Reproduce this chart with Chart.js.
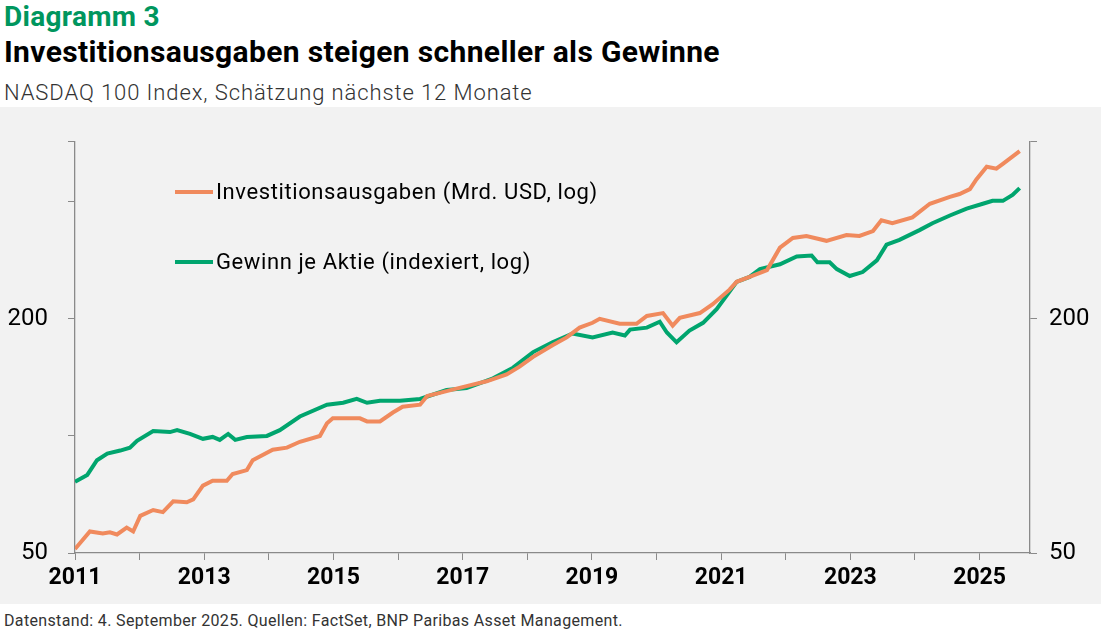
<!DOCTYPE html>
<html><head><meta charset="utf-8">
<script src="https://cdn.jsdelivr.net/npm/chart.js@4"></script>
<style>
body{margin:0;width:1101px;height:635px;background:#fff;font-family:Roboto,sans-serif;position:relative;overflow:hidden}
.t1{position:absolute;left:4px;top:0px;font-size:28px;font-weight:700;color:#00965e;letter-spacing:0.3px}
.t2{position:absolute;left:4px;top:34px;font-size:30px;font-weight:700;color:#000;letter-spacing:0.35px}
.t3{position:absolute;left:4px;top:80px;font-size:22px;color:#333;font-weight:300;letter-spacing:0.9px}
.box{position:absolute;left:0;top:107px;width:1101px;height:497px;background:#f2f2f2}
.foot{position:absolute;left:4px;top:611px;font-size:16px;color:#333;letter-spacing:0.35px}
.lg{position:absolute;left:175px;font-size:22px;color:#000;display:flex;align-items:center;letter-spacing:0.6px}
.lg span{display:inline-block;width:38px;height:4px;margin-right:3px}
</style></head><body>
<div class="t1">Diagramm 3</div>
<div class="t2">Investitionsausgaben steigen schneller als Gewinne</div>
<div class="t3">NASDAQ 100 Index, Schätzung nächste 12 Monate</div>
<div class="box"><canvas id="c" width="1101" height="497"></canvas></div>
<div class="lg" style="top:179px"><span style="background:#f08a5d"></span>Investitionsausgaben (Mrd. USD, log)</div>
<div class="lg" style="top:249px"><span style="background:#00a56e"></span>Gewinn je Aktie (indexiert, log)</div>
<div class="foot">Datenstand: 4. September 2025. Quellen: FactSet, BNP Paribas Asset Management.</div>
<script>
const capexYears=[2011.0,2011.23,2011.43,2011.54,2011.65,2011.80,2011.90,2012.01,2012.21,2012.36,2012.52,2012.73,2012.83,2012.98,2013.13,2013.35,2013.44,2013.66,2013.75,2014.06,2014.28,2014.48,2014.79,2014.90,2014.99,2015.41,2015.52,2015.72,2015.92,2016.07,2016.34,2016.45,2016.75,2017.06,2017.37,2017.68,2017.88,2018.09,2018.39,2018.61,2018.81,2019.01,2019.12,2019.43,2019.69,2019.85,2020.10,2020.25,2020.36,2020.67,2020.87,2021.13,2021.24,2021.44,2021.71,2021.91,2022.11,2022.32,2022.63,2022.94,2023.14,2023.35,2023.48,2023.65,2023.96,2024.23,2024.54,2024.69,2024.85,2024.95,2025.11,2025.26,2025.36,2025.62];
const capexValues=[51.2,56.8,56.1,56.5,55.8,58.1,56.8,62.3,64.5,63.7,67.9,67.5,68.7,74.5,76.7,76.7,79.8,81.7,86.6,92.2,93.3,96.6,100,107.8,111,111,109,109,114.9,118.9,120.3,126.7,130.4,134.3,138.2,143.9,150.7,159.7,171.1,179.2,189.9,195.4,200,194.3,194.3,203.5,207,192.1,201.2,207,218.1,237.8,249.1,256.4,267,304.9,323,326.8,317.5,328.6,326.8,336.4,358.4,352.3,364.7,395.4,411.7,418.9,431.2,456.8,492.5,486.8,501,540];
const epsYears=[2011.0,2011.19,2011.34,2011.50,2011.70,2011.85,2011.96,2012.21,2012.47,2012.58,2012.78,2012.98,2013.13,2013.24,2013.37,2013.48,2013.66,2013.97,2014.17,2014.48,2014.90,2015.15,2015.36,2015.52,2015.72,2016.03,2016.34,2016.75,2017.06,2017.47,2017.78,2018.09,2018.39,2018.70,2019.01,2019.32,2019.51,2019.59,2019.85,2020.05,2020.16,2020.31,2020.51,2020.72,2020.93,2021.13,2021.24,2021.44,2021.60,2021.91,2022.17,2022.40,2022.49,2022.68,2022.79,2022.99,2023.19,2023.41,2023.56,2023.76,2024.07,2024.27,2024.54,2024.80,2025.05,2025.20,2025.36,2025.51,2025.62];
const epsValues=[76.2,79.4,86.6,90.1,91.7,93.3,97.1,102.9,102.3,103.5,101.2,98.3,99.4,97.7,101.2,97.7,99.4,100,103.5,112.2,120.3,121.7,124.5,121.7,123.1,123.1,124.5,131.2,132.7,140.6,149.8,164.3,174.1,183.4,179.2,184.5,181.3,187.7,189.9,196.6,184.5,174.1,186.6,195.4,211.9,235.1,249.1,256.4,268.5,276.3,289.4,291.1,279.6,279.6,268.5,257.8,263.9,282.8,310.2,319.3,338.3,352.3,368.9,384.1,395.4,402.3,402.3,416.5,433.7];
const yTicks=[50,100,200,400,572];
const yLabels=[50,200];
const xTicks=[2011,2012,2013,2014,2015,2016,2017,2018,2019,2020,2021,2022,2023,2024,2025];
const xLabels=[2011,2013,2015,2017,2019,2021,2023,2025];
const pts=(xs,ys)=>xs.map((x,i)=>({x,y:ys[i]}));
const gridC='#8a8a8a';
const yAxis=(pos,w,showAll)=>({type:'logarithmic',position:pos,min:50,max:572,
  afterBuildTicks:a=>{a.ticks=(showAll?yTicks:[50,200,572]).map(v=>({value:v}));},
  afterFit:a=>{a.width=w;},
  ticks:{autoSkip:false,color:'#000',font:{family:'Roboto',size:24},padding:pos==='left'?20:12,
    callback:v=>yLabels.includes(v)?String(v):''},
  grid:{drawOnChartArea:false,drawTicks:true,tickLength:7,color:gridC},
  border:{color:gridC,width:1.3}});
new Chart(document.getElementById('c'),{type:'line',
 data:{datasets:[
  {data:pts(capexYears,capexValues),borderColor:'#f08a5d',borderWidth:4,pointRadius:0,tension:0,xAxisID:'x',yAxisID:'y'},
  {data:pts(epsYears,epsValues),borderColor:'#00a56e',borderWidth:4,pointRadius:0,tension:0,xAxisID:'x',yAxisID:'y'}]},
 options:{animation:false,responsive:false,events:[],
  layout:{padding:{top:12,left:0,right:0,bottom:0}},
  plugins:{legend:{display:false},tooltip:{enabled:false}},
  scales:{
   x:{type:'linear',min:2011,max:2025.78,
     afterBuildTicks:a=>{a.ticks=xTicks.map(v=>({value:v}));},
     afterFit:a=>{a.height=51;},
     ticks:{autoSkip:false,maxRotation:0,color:'#000',font:{family:'Roboto',size:23,weight:'bold'},padding:4,
       callback:v=>xLabels.includes(v)?String(v):''},
     grid:{drawOnChartArea:false,drawTicks:true,tickLength:7,color:gridC},
     border:{color:gridC,width:1.3}},
   y:yAxis('left',75,true),
   y2:{...yAxis('right',71,false),display:true}
  }}});
</script></body></html>
